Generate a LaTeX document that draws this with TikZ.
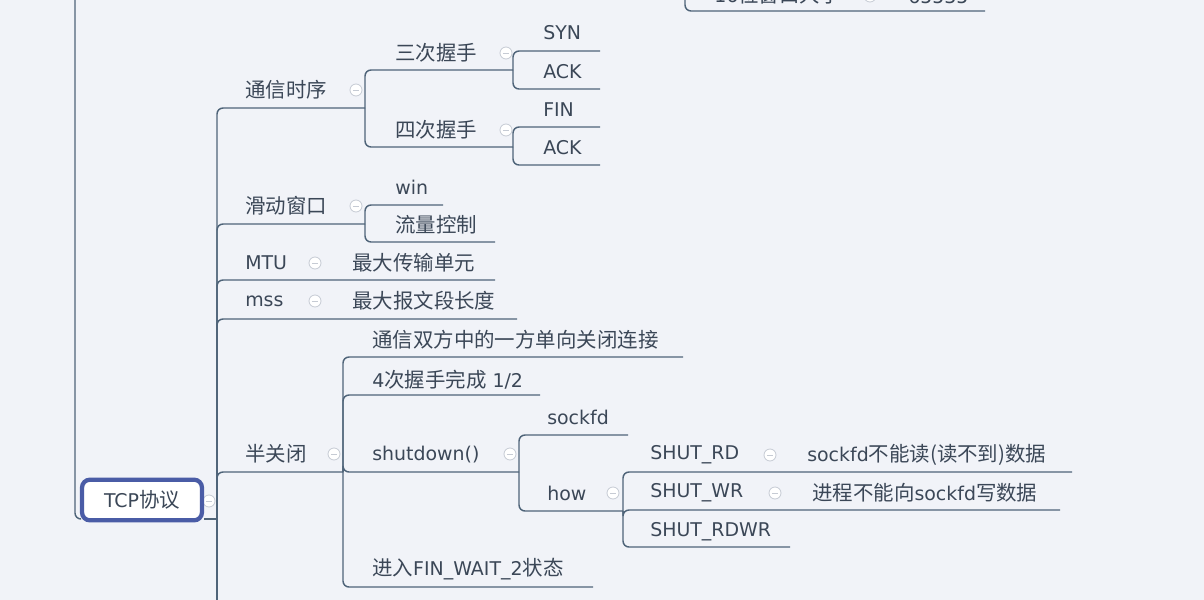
\documentclass[tikz,border=0pt]{standalone}
\usepackage{fontspec}
\setmainfont{DejaVu Sans}
\newfontfamily\cjk[Scale=1.08]{Noto Sans CJK SC}
\usepackage{tikz}
\definecolor{bgc}{HTML}{F1F3F8}
\definecolor{linec}{HTML}{4F6479}
\definecolor{txtc}{HTML}{3B4757}
\definecolor{boxc}{HTML}{4A5CA6}
\definecolor{foldc}{HTML}{C6CBD4}
\tikzset{
  topic/.style={anchor=west,inner sep=0pt,text=txtc,font=\fontsize{14.2}{17}\selectfont},
  branch/.style={draw=linec,line width=1.1pt,rounded corners=4.5pt},
  fold/.style={circle,draw=foldc,fill=white,line width=0.6pt,minimum size=9pt,inner sep=0pt,
    path picture={\draw[foldc,line width=0.7pt] ([xshift=-2.3pt]path picture bounding box.center)
      -- ([xshift=2.3pt]path picture bounding box.center);}},
}
\begin{document}
\begin{tikzpicture}[x=0.75pt,y=-0.75pt]
\fill[bgc] (0,0) rectangle (1204,600);
\useasboundingbox (0,0) rectangle (1204,600);
\clip (0,0) rectangle (1204,600);

\coordinate (root) at (75,-10);
\coordinate (tcp-e) at (217,519);
\coordinate (more) at (217,620);
\coordinate (top-s) at (685,-30);
\coordinate (top-e) at (985,11);
\coordinate (seq-e) at (365,108);
\coordinate (t3-e) at (513,70);
\coordinate (syn-e) at (600,51);
\coordinate (ack1-e) at (600,89);
\coordinate (t4-e) at (513,147);
\coordinate (fin-e) at (600,127);
\coordinate (ack2-e) at (600,165);
\coordinate (slide-e) at (365,224);
\coordinate (win-e) at (443,205);
\coordinate (flow-e) at (495,242);
\coordinate (mtu-e) at (495,280);
\coordinate (mss-e) at (517,319);
\coordinate (half-e) at (343,472);
\coordinate (h1-e) at (683,357);
\coordinate (h2-e) at (540,395);
\coordinate (shut-e) at (519,472);
\coordinate (sock-e) at (628,435);
\coordinate (how-e) at (623,511);
\coordinate (rd-e) at (1072,472);
\coordinate (wr-e) at (1060,510);
\coordinate (rdwr-e) at (790,547);
\coordinate (fin2-e) at (593,587);

\node[fold] (tcp-f) at (209,501) {};
\node[draw=boxc,line width=3.2pt,rounded corners=6pt,fill=white,minimum width=90pt,
  minimum height=30.5pt,inner sep=0pt,text=txtc,font=\fontsize{14.2}{17}\selectfont]
  (tcp) at (142,500) {TCP{\cjk 协议}};

\node[topic,anchor=base west] (top) at (714,2) {16{\cjk 位窗口大小}};
\node[topic,anchor=base west] (top1) at (908,3) {65535};
\node[topic] (seq) at (245,90) {\cjk 通信时序};
\node[topic] (t3) at (395,53) {\cjk 三次握手};
\node[topic] (syn) at (543,33) {SYN};
\node[topic] (ack1) at (543,72) {ACK};
\node[topic] (t4) at (395,130) {\cjk 四次握手};
\node[topic] (fin) at (543,110) {FIN};
\node[topic] (ack2) at (543,148) {ACK};
\node[topic] (slide) at (245,206) {\cjk 滑动窗口};
\node[topic] (win) at (395,187) {win};
\node[topic] (flow) at (395,225) {\cjk 流量控制};
\node[topic] (mtu) at (245,263) {MTU};
\node[topic] (mtu1) at (352,263) {\cjk 最大传输单元};
\node[topic] (mss) at (245,301) {mss};
\node[topic] (mss1) at (352,301) {\cjk 最大报文段长度};
\node[topic] (half) at (245,454) {\cjk 半关闭};
\node[topic] (h1) at (372,340) {\cjk 通信双方中的一方单向关闭连接};
\node[topic] (h2) at (372,380) {4{\cjk 次握手完成} 1/2};
\node[topic] (shut) at (372,455) {shutdown()};
\node[topic] (sock) at (547,417) {sockfd};
\node[topic] (how) at (547,493) {how};
\node[topic] (rd) at (650,455) {SHUT\_RD};
\node[topic] (rd1) at (807,455) {sockfd{\cjk 不能读(读不到)数据}};
\node[topic] (wr) at (650,493) {SHUT\_WR};
\node[topic] (wr1) at (812,493) {{\cjk 进程不能向}sockfd{\cjk 写数据}};
\node[topic] (rdwr) at (650,532) {SHUT\_RDWR};
\node[topic] (fin2) at (372,569) {{\cjk 进入}FIN\_WAIT\_2{\cjk 状态}};

\draw[branch] (root) |- (tcp.west |- tcp-e);
\draw[branch] (tcp.east |- tcp-e) -- (tcp-e);
\draw[branch] (top-s) |- (top-e);
\foreach \c in {seq-e,slide-e,mtu-e,mss-e,half-e,more}
  \draw[branch] (tcp-e) |- (\c);
\foreach \c in {t3-e,t4-e} \draw[branch] (seq-e) |- (\c);
\foreach \c in {syn-e,ack1-e} \draw[branch] (t3-e) |- (\c);
\foreach \c in {fin-e,ack2-e} \draw[branch] (t4-e) |- (\c);
\foreach \c in {win-e,flow-e} \draw[branch] (slide-e) |- (\c);
\foreach \c in {h1-e,h2-e,shut-e,fin2-e} \draw[branch] (half-e) |- (\c);
\foreach \c in {sock-e,how-e} \draw[branch] (shut-e) |- (\c);
\foreach \c in {rd-e,wr-e,rdwr-e} \draw[branch] (how-e) |- (\c);

\foreach \p [count=\i] in {(356,90),(506,53),(506,130),(356,206),(315,263),(315,301),
  (334,454),(510,454),(613,493),(770,455),(775,493),(870,-4)}
  \node[fold] (f\i) at \p {};
\end{tikzpicture}
\end{document}
